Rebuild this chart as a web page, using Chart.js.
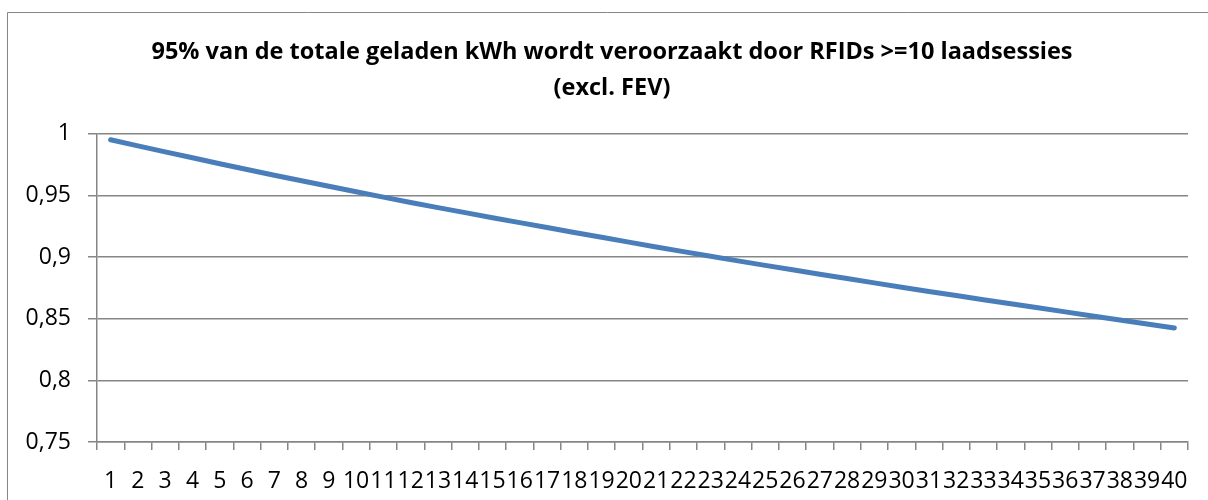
<!DOCTYPE html>
<html>
<head>
<meta charset="utf-8">
<script src="https://cdn.jsdelivr.net/npm/chart.js@4"></script>
<style>
    html, body { margin: 0; padding: 0; background: #ffffff; }
    #wrap { width: 1208px; height: 500px; position: relative; }
</style>
</head>
<body>
<div id="wrap"><canvas id="chart" width="1208" height="500"></canvas></div>
<script>
// categorieën (aantal laadsessies)
const categories = ['1','2','3','4','5','6','7','8','9','10','11','12','13','14','15','16','17','18','19','20',
    '21','22','23','24','25','26','27','28','29','30','31','32','33','34','35','36','37','38','39','40'];

// aandeel van totale geladen kWh
const shareValues = [0.9953, 0.9903, 0.9854, 0.9806, 0.9758, 0.9711, 0.9665, 0.9620, 0.9575, 0.9531,
    0.9487, 0.9444, 0.9402, 0.9361, 0.9320, 0.9280, 0.9240, 0.9200, 0.9161, 0.9122,
    0.9083, 0.9045, 0.9007, 0.8970, 0.8933, 0.8897, 0.8861, 0.8826, 0.8791, 0.8756,
    0.8722, 0.8688, 0.8655, 0.8622, 0.8589, 0.8556, 0.8523, 0.8490, 0.8457, 0.8425];

// y-as instellingen
const yMin = 0.75;
const yMax = 1;
const yStep = 0.05;

const titleLines = ['95% van de totale geladen kWh wordt veroorzaakt door RFIDs >=10 laadsessies', '(excl. FEV)'];

const gridColor = '#868686';

// Rand om de grafiek (zoals in Excel) + titel iets naar rechts, zoals in het origineel
const outerBorder = {
    id: 'outerBorder',
    afterLayout(chart) {
        if (chart.titleBlock) {
            chart.titleBlock.left += 18;
            chart.titleBlock.right += 18;
        }
    },
    beforeDraw(chart) {
        const c = chart.ctx;
        c.save();
        c.strokeStyle = gridColor;
        c.lineWidth = 1;
        c.beginPath();
        c.moveTo(7.5, 500);
        c.lineTo(7.5, 12.5);
        c.lineTo(1208, 12.5);
        c.stroke();
        c.restore();
    }
};

const ctx = document.getElementById('chart').getContext('2d');
new Chart(ctx, {
    type: 'line',
    data: {
        labels: categories,
        datasets: [{
            data: shareValues,
            borderColor: '#4a7ebb',
            borderWidth: 5,
            borderCapStyle: 'round',
            borderJoinStyle: 'round',
            pointRadius: 0,
            tension: 0,
            fill: false
        }]
    },
    options: {
        responsive: false,
        animation: false,
        layout: { padding: { left: 0, right: 20, top: 0, bottom: 0 } },
        plugins: {
            legend: { display: false },
            tooltip: { enabled: false },
            title: {
                display: true,
                text: titleLines,
                color: '#000000',
                font: { family: 'Open Sans', size: 23.5, weight: 'bold', lineHeight: 1.53 },
                padding: { top: 34, bottom: 28 }
            }
        },
        scales: {
            x: {
                type: 'category',
                offset: true,
                grid: {
                    offset: true,
                    drawOnChartArea: false,
                    color: gridColor,
                    lineWidth: 1.5,
                    tickLength: 8
                },
                border: { color: gridColor, width: 1.5 },
                ticks: {
                    autoSkip: false,
                    maxRotation: 0,
                    minRotation: 0,
                    color: '#000000',
                    padding: 18,
                    font: { family: 'Open Sans', size: 23 }
                },
                afterFit(scale) { scale.height = 58; }
            },
            y: {
                min: yMin,
                max: yMax,
                grid: {
                    color: gridColor,
                    lineWidth: 1.5,
                    tickLength: 9
                },
                border: { color: gridColor, width: 1.5 },
                ticks: {
                    stepSize: yStep,
                    color: '#000000',
                    padding: 17,
                    font: { family: 'Open Sans', size: 23 },
                    callback: (v) => Number(v.toFixed(2)).toString().replace('.', ',')
                },
                afterFit(scale) { scale.width = 97; }
            }
        }
    },
    plugins: [outerBorder]
});
</script>
</body>
</html>
